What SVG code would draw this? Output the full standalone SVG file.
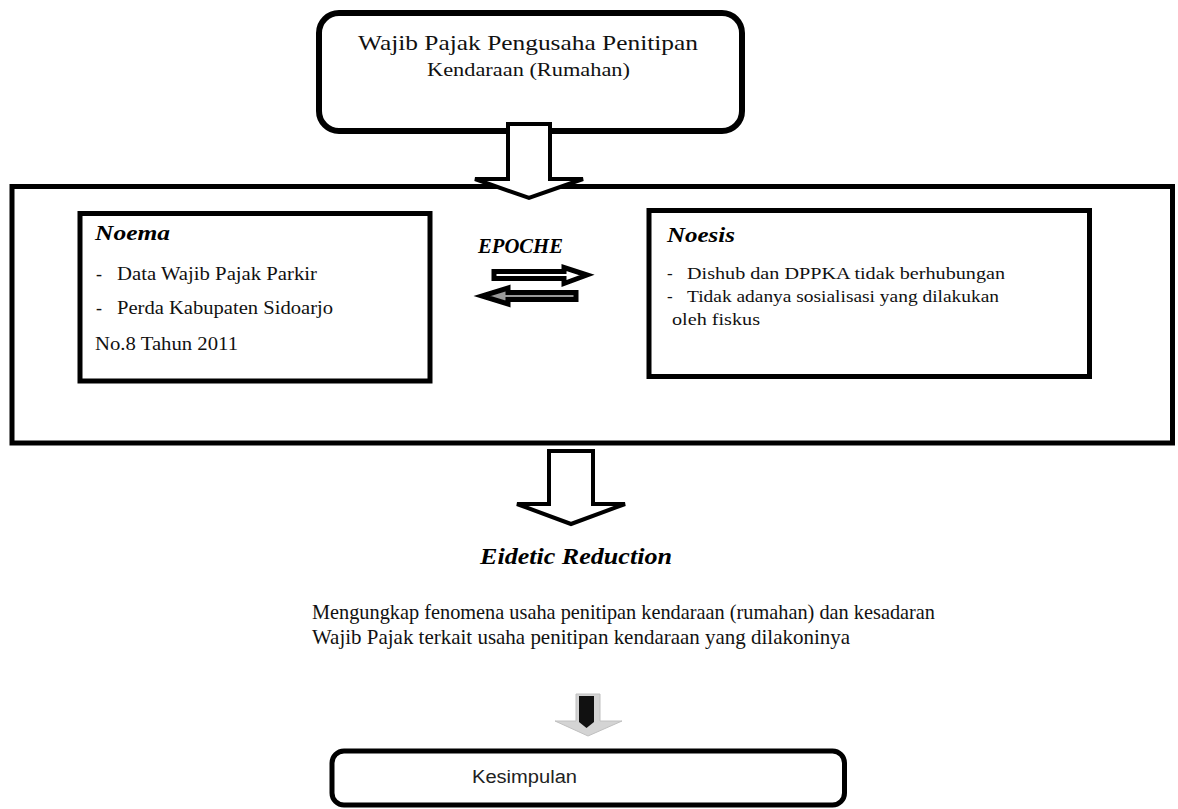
<svg xmlns="http://www.w3.org/2000/svg" width="1178" height="809" viewBox="0 0 1178 809">
<style>
.box{fill:#fff;stroke:#000;stroke-width:5}
.arr{fill:#fff;stroke:#000;stroke-width:4}
.t{font-family:"Liberation Serif",serif;fill:#111}
.h{font-family:"Liberation Serif",serif;font-weight:bold;font-style:italic;fill:#000}
.s{font-family:"Liberation Sans",sans-serif;fill:#222}
</style>
<rect width="1178" height="809" fill="#fff"/>
<g id="wajib-pajak">
<rect x="319" y="13" width="423" height="118" rx="20" class="box" style="stroke-width:6"/>
<text x="358" y="50" class="t" font-size="22" textLength="340" lengthAdjust="spacingAndGlyphs">Wajib Pajak Pengusaha Penitipan</text>
<text x="427" y="76" class="t" font-size="18" textLength="203" lengthAdjust="spacingAndGlyphs">Kendaraan (Rumahan)</text>
</g>
<g id="frame">
<rect x="12" y="186.5" width="1160.5" height="256.5" class="box"/>
</g>
<g id="noema">
<rect x="80" y="213.5" width="350" height="167.5" class="box"/>
<text x="95" y="240" class="h" font-size="20" textLength="75" lengthAdjust="spacingAndGlyphs">Noema</text>
<text x="96" y="280" class="t" font-size="18">-</text>
<text x="117" y="280" class="t" font-size="18" textLength="200" lengthAdjust="spacingAndGlyphs">Data Wajib Pajak Parkir</text>
<text x="96" y="314" class="t" font-size="18">-</text>
<text x="117" y="314" class="t" font-size="18" textLength="216" lengthAdjust="spacingAndGlyphs">Perda Kabupaten  Sidoarjo</text>
<text x="95" y="350" class="t" font-size="18" textLength="143" lengthAdjust="spacingAndGlyphs">No.8 Tahun 2011</text>
</g>
<g id="epoche">
<text x="478" y="253" class="h" font-size="20" textLength="85" lengthAdjust="spacingAndGlyphs">EPOCHE</text>
</g>
<g id="noesis">
<rect x="649" y="210.5" width="440.5" height="166" class="box"/>
<text x="667" y="242" class="h" font-size="20" textLength="68" lengthAdjust="spacingAndGlyphs">Noesis</text>
<text x="667" y="279" class="t" font-size="17">-</text>
<text x="687" y="279" class="t" font-size="17" textLength="318" lengthAdjust="spacingAndGlyphs">Dishub dan DPPKA tidak berhubungan</text>
<text x="667" y="302" class="t" font-size="17">-</text>
<text x="687" y="302" class="t" font-size="17" textLength="312" lengthAdjust="spacingAndGlyphs">Tidak adanya sosialisasi  yang dilakukan</text>
<text x="672" y="325" class="t" font-size="17" textLength="88" lengthAdjust="spacingAndGlyphs">oleh fiskus</text>
</g>
<g id="eidetic">
<text x="480" y="564" class="h" font-size="24" textLength="192" lengthAdjust="spacingAndGlyphs">Eidetic Reduction</text>
</g>
<g id="mengungkap">
<text x="312" y="619" class="t" font-size="21.5" textLength="623" lengthAdjust="spacingAndGlyphs">Mengungkap fenomena usaha penitipan kendaraan (rumahan) dan kesadaran</text>
<text x="312" y="644" class="t" font-size="21.5" textLength="538" lengthAdjust="spacingAndGlyphs">Wajib Pajak terkait usaha penitipan kendaraan yang dilakoninya</text>
</g>
<g id="kesimpulan">
<rect x="332" y="751" width="512.5" height="54" rx="12" class="box"/>
<text x="472" y="783" class="s" font-size="18" textLength="105" lengthAdjust="spacingAndGlyphs">Kesimpulan</text>
</g>
<g id="connectors">
<polygon class="arr" points="508,124 550,124 550,179 583,179 529,198 475,179 508,179"/>
<polygon class="arr" points="549,451 593,451 593,504 625,504 571,524 517,504 549,504"/>
<polygon points="494,271.5 564,271.5 564,267.5 587,275 564,283.5 564,278.5 494,278.5" fill="#fff" stroke="#000" stroke-width="5"/>
<polygon points="576,292.5 508,292.5 508,288 482,296 508,304 508,299.5 576,299.5" fill="#9a9a9a" stroke="#000" stroke-width="5"/>
<polygon points="576,694 600,694 600,721 622,721 588,736 555,721 576,721" fill="#d4d4d4" stroke="#c0c0c0" stroke-width="1"/>
<polygon points="579,696 594,696 594,722 586.5,728 579,722" fill="#111"/>
</g>
</svg>
